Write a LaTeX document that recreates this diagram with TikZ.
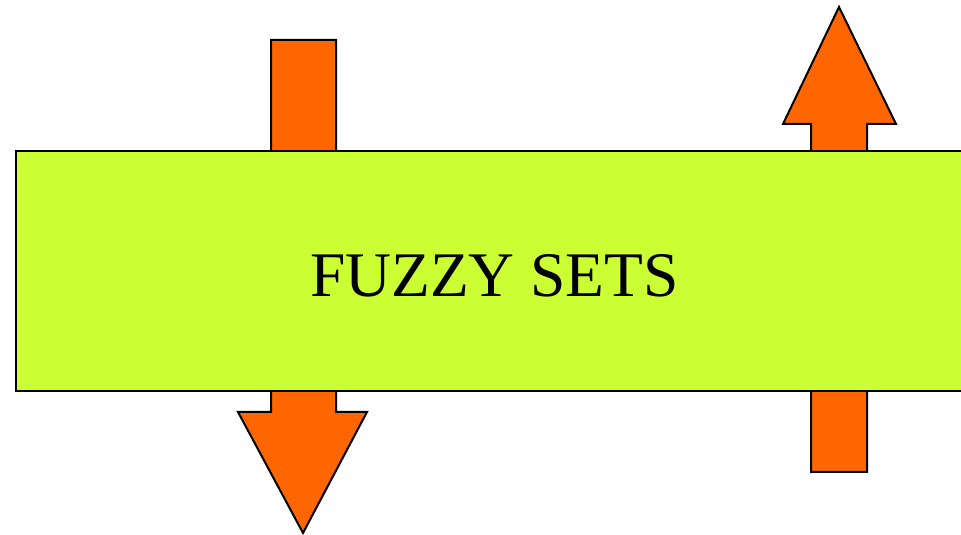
\documentclass[tikz,border=0pt]{standalone}
\usepackage{fontspec}
\setmainfont{Liberation Serif}
\usetikzlibrary{positioning}
\definecolor{fuzzyorange}{HTML}{FF6600}
\definecolor{fuzzygreen}{HTML}{CCFF33}
\tikzset{
  blockarrow/.style={draw, line width=2pt, line join=miter, fill=fuzzyorange},
  setbox/.style={draw, line width=2pt, fill=fuzzygreen, rectangle, inner sep=0pt, anchor=south west},
  titletext/.style={font=\fontsize{63.5}{70}\selectfont, anchor=base}
}
\begin{document}
\begin{tikzpicture}[x=1pt, y=1pt]
      \useasboundingbox (0,0) rectangle (961,535);
      \clip (0,0) rectangle (961,535);
      % down arrow (left) and up arrow (right), behind the box
      \draw[blockarrow] (271,495) -- (336,495) -- (336,123) -- (367,123) -- (303,2) -- (238,123) -- (271,123) -- cycle;
      \draw[blockarrow] (811,63) -- (867,63) -- (867,411) -- (896,411) -- (839,528) -- (783,411) -- (811,411) -- cycle;
      % the box
      \node[setbox, minimum width=975pt, minimum height=240pt] (sets) at (15,143) {};
      \node[titletext] (title) at (494.5,238) {FUZZY SETS};
    \end{tikzpicture}
\end{document}
